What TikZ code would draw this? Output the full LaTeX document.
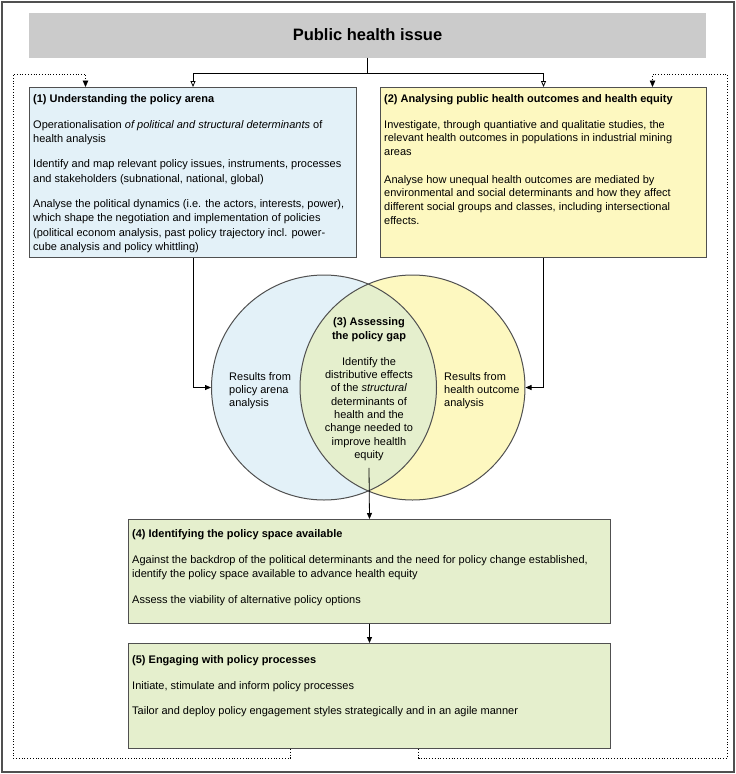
\documentclass[tikz,border=0pt]{standalone}
\usepackage{fontspec}
\setmainfont{Liberation Sans}
\usetikzlibrary{arrows.meta,calc}
\definecolor{hdrgray}{HTML}{CBCBCB}
\definecolor{bluef}{HTML}{E3F1F8}
\definecolor{yelf}{HTML}{FDF8C0}
\definecolor{greenf}{HTML}{E5EFCD}
\definecolor{edge}{HTML}{505050}
\begin{document}
\begin{tikzpicture}[x=1pt,y=-1pt,
  box/.style={draw=edge, line width=1pt, anchor=north west, inner sep=0pt},
  txt/.style={anchor=north west, inner sep=0pt, align=left, font=\fontsize{11}{14}\selectfont},
  arr/.style={-{Triangle[length=6pt,width=5pt]}, line width=0.8pt},
  oarr/.style={-{Triangle[open,length=6pt,width=5pt]}, line width=0.8pt},
  dotarr/.style={dotted, line width=0.8pt, -{Triangle[length=6.5pt,width=5.5pt,fill=black,line width=0.8pt]}},
  ring/.style={circle, draw=edge, line width=1pt, minimum size=225pt, inner sep=0pt}
]
\useasboundingbox (0,0) rectangle (736,774);
\node[draw=edge, line width=1.2pt, minimum width=732pt, minimum height=770pt, inner sep=0pt] (frame) at (368,387) {};

% header
\node[fill=hdrgray, minimum width=677pt, minimum height=45pt, inner sep=0pt,
      font=\bfseries\fontsize{16.5}{20}\selectfont] (hdr) at (367.5,35) {Public health issue};

% boxes
\node[box, fill=bluef, minimum width=327pt, minimum height=170pt] (b1) at (29,87) {};
\node[box, fill=yelf, minimum width=326pt, minimum height=170pt] (b2) at (380,87) {};
\node[box, fill=greenf, minimum width=482pt, minimum height=104pt] (b4) at (128,519) {};
\node[box, fill=greenf, minimum width=482pt, minimum height=105pt] (b5) at (128,643) {};

\node[txt, font=\fontsize{11}{14.5}\selectfont] (t1) at (33,94) {\textbf{(1) Understanding the policy arena}\\[11.5pt]
Operationalisation \textit{of political and structural determinants} of\\
health analysis\\[10.5pt]
Identify and map relevant policy issues, instruments, processes\\
and stakeholders (subnational, national, global)\\[10.5pt]
Analyse the political dynamics (i.e. the actors, interests, power),\\
which shape the negotiation and implementation of policies\\
(political econom analysis, past policy trajectory incl. power-\\
cube analysis and policy whittling)};

\node[txt, font=\fontsize{11}{13.6}\selectfont] (t2) at (384,94) {\textbf{(2) Analysing public health outcomes and health equity}\\[12.4pt]
Investigate, through quantiative and qualitatie studies, the\\
relevant health outcomes in populations in industrial mining\\
areas\\[14.4pt]
Analyse how unequal health outcomes are mediated by\\
environmental and social determinants and how they affect\\
different social groups and classes, including intersectional\\
effects.};

\node[txt, font=\fontsize{11}{13.5}\selectfont] (t4) at (132,529) {\textbf{(4) Identifying the policy space available}\\[13pt]
Against the backdrop of the political determinants and the need for policy change established,\\
identify the policy space available to advance health equity\\[12.5pt]
Assess the viability of alternative policy options};

\node[txt, font=\fontsize{11}{13.5}\selectfont] (t5) at (132,655.5) {\textbf{(5) Engaging with policy processes}\\[12.5pt]
Initiate, stimulate and inform policy processes\\[11.5pt]
Tailor and deploy policy engagement styles strategically and in an agile manner};

% Venn
\fill[bluef] (324,387.5) circle[radius=112.5pt];
\fill[yelf] (412.5,387.5) circle[radius=112.5pt];
\begin{scope}
  \clip (324,387.5) circle[radius=112.5pt];
  \fill[greenf] (412.5,387.5) circle[radius=112.5pt];
\end{scope}
\node[ring] (lc) at (324,387.5) {};
\node[ring] (rc) at (412.5,387.5) {};

\node[anchor=north, inner sep=0pt, align=center, font=\fontsize{11}{13.3}\selectfont] (gap) at (369,317)
 {\textbf{(3) Assessing}\\[0.7pt]\textbf{the policy gap}\\[12.8pt]
  Identify the\\distributive effects\\of the \textit{structural}\\determinants of\\health and the\\change needed to\\improve healtlh\\equity};
\node[txt, font=\fontsize{11}{13.2}\selectfont] (lres) at (229,372) {Results from\\policy arena\\analysis};
\node[txt, font=\fontsize{11}{13.2}\selectfont] (rres) at (444,372) {Results from\\health outcome\\analysis};

% connectors
\coordinate (hj) at ($(hdr.south)+(0,15.5)$);
\draw[line width=0.8pt] (hdr.south) -- (hj);
\draw[oarr] (hj) -| (b1.north);
\draw[oarr] (hj) -| (b2.north);

\draw[arr] (b1.south) |- (lc.west);
\draw[arr] (b2.south) |- (rc.east);
\draw[arr] ([yshift=-7pt]gap.south) -- (b4.north);
\draw[arr] (b4.south) -- (b5.north);

\draw[dotarr] ([xshift=-79pt]b5.south) -- ++(0,9) -| (13,74) -| ([xshift=-107.5pt]b1.north);
\draw[dotarr] ([xshift=49pt]b5.south) -- ++(0,9) -| (727,74) -| ([xshift=109pt]b2.north);
\end{tikzpicture}
\end{document}
